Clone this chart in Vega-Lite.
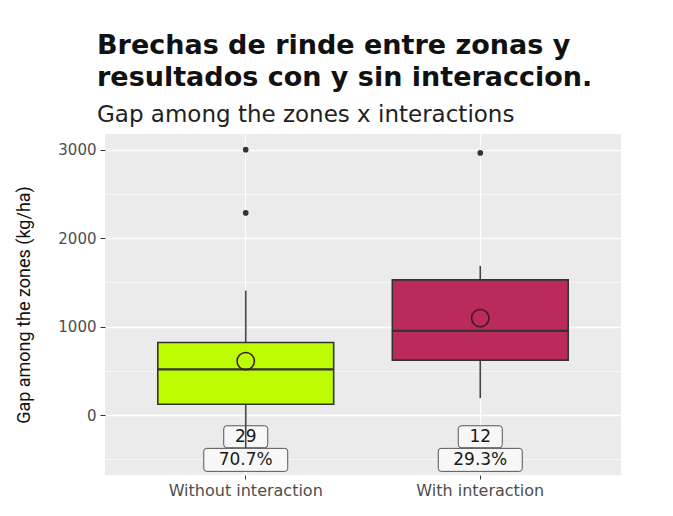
{
  "$schema": "https://vega.github.io/schema/vega-lite/v6.json",
  "autosize": {"type": "none"},
  "padding": {"left": 105, "top": 134, "right": 52, "bottom": 41},
  "width": 516,
  "height": 341,
  "background": "white",
  "title": {
    "text": ["Brechas de rinde  entre zonas y", "resultados con y sin interaccion."],
    "subtitle": "Gap among the zones x interactions",
    "anchor": "start",
    "frame": "group",
    "dx": -8,
    "font": "DejaVu Sans",
    "fontWeight": "bold",
    "fontSize": 27,
    "lineHeight": 32,
    "color": "#111111",
    "subtitleFont": "DejaVu Sans",
    "subtitleFontSize": 23,
    "subtitleColor": "#222222",
    "subtitlePadding": 12,
    "offset": 6
  },
  "datasets": {
    "boxes": [
      {"group": "Without interaction", "lo": -370, "q1": 123, "median": 517, "q3": 821, "hi": 1407, "mean": 610},
      {"group": "With interaction", "lo": 192, "q1": 621, "median": 952, "q3": 1528, "hi": 1686, "mean": 1095}
    ],
    "outliers": [
      {"group": "Without interaction", "value": 3000},
      {"group": "Without interaction", "value": 2285},
      {"group": "With interaction", "value": 2963}
    ],
    "labels": [
      {"group": "Without interaction", "y": -245, "text": "29", "kind": "n"},
      {"group": "Without interaction", "y": -506, "text": "70.7%", "kind": "pct"},
      {"group": "With interaction", "y": -245, "text": "12", "kind": "n"},
      {"group": "With interaction", "y": -506, "text": "29.3%", "kind": "pct"}
    ]
  },
  "encoding": {
    "x": {
      "field": "group",
      "type": "nominal",
      "sort": ["Without interaction", "With interaction"],
      "scale": {"domain": ["Without interaction", "With interaction"], "paddingInner": 0.25, "paddingOuter": 0.225},
      "axis": {
        "title": null,
        "labelAngle": 0,
        "domain": false,
        "grid": true,
        "gridColor": "white",
        "gridWidth": 1.2,
        "bandPosition": 0.5,
        "tickColor": "#333333",
        "tickSize": 4,
        "labelFont": "DejaVu Sans",
        "labelFontSize": 16,
        "labelColor": "#4d4d4d",
        "labelPadding": 3
      }
    }
  },
  "layer": [
    {
      "data": {"name": "labels"},
      "transform": [{"filter": "datum.kind === 'n'"}],
      "mark": {"type": "point", "filled": true, "fill": "#f7f7f7", "fillOpacity": 1, "stroke": "#555555", "strokeWidth": 1, "opacity": 1, "size": 1936,
        "shape": "M-0.86,-0.5 H0.86 Q1,-0.5 1,-0.36 V0.36 Q1,0.5 0.86,0.5 H-0.86 Q-1,0.5 -1,0.36 V-0.36 Q-1,-0.5 -0.86,-0.5 Z"},
      "encoding": {
        "y": {
          "field": "y",
          "type": "quantitative",
          "title": "Gap among the zones (kg/ha)",
          "scale": {"domain": [-677, 3177], "nice": false, "zero": false},
          "axis": {
            "values": [-500, 0, 500, 1000, 1500, 2000, 2500, 3000],
            "format": "d",
            "labelExpr": "datum.value % 1000 === 0 ? datum.label : ''",
            "domain": false,
            "grid": true,
            "gridColor": "white",
            "gridOpacity": 1,
            "gridWidth": {"condition": {"test": "datum.value % 1000 === 0", "value": 1.3}, "value": 0.6},
            "tickColor": "#333333",
            "tickOpacity": {"condition": {"test": "datum.value % 1000 === 0", "value": 1}, "value": 0},
            "tickSize": 5,
            "labelFont": "DejaVu Sans",
            "labelFontSize": 15,
            "labelColor": "#4d4d4d",
            "labelPadding": 4,
            "titleFont": "Roboto",
            "titleFontSize": 18,
            "titleFontWeight": "normal",
            "titleColor": "#111111",
            "titlePadding": 24
          }
        }
      }
    },
    {
      "data": {"name": "labels"},
      "transform": [{"filter": "datum.kind === 'pct'"}],
      "mark": {"type": "point", "filled": true, "fill": "#f7f7f7", "fillOpacity": 1, "stroke": "#555555", "strokeWidth": 1, "opacity": 1, "size": 7056,
        "shape": "M-0.93,-0.274 H0.93 Q1,-0.274 1,-0.204 V0.204 Q1,0.274 0.93,0.274 H-0.93 Q-1,0.274 -1,0.204 V-0.204 Q-1,-0.274 -0.93,-0.274 Z"},
      "encoding": {
        "y": {"field": "y", "type": "quantitative", "title": "Gap among the zones (kg/ha)"}
      }
    },
    {
      "data": {"name": "boxes"},
      "mark": {"type": "rule", "color": "#444444", "strokeWidth": 1.6},
      "encoding": {
        "y": {"field": "lo", "type": "quantitative", "title": "Gap among the zones (kg/ha)"},
        "y2": {"field": "hi"}
      }
    },
    {
      "data": {"name": "boxes"},
      "mark": {"type": "bar", "stroke": "#333333", "strokeWidth": 1.6},
      "encoding": {
        "y": {"field": "q1", "type": "quantitative", "title": "Gap among the zones (kg/ha)"},
        "y2": {"field": "q3"},
        "color": {
          "field": "group",
          "type": "nominal",
          "scale": {"domain": ["Without interaction", "With interaction"], "range": ["#BDFB00", "#BA2A5C"]},
          "legend": null
        }
      }
    },
    {
      "data": {"name": "boxes"},
      "mark": {"type": "tick", "color": "#333333", "thickness": 2.2, "size": 176, "opacity": 1},
      "encoding": {
        "y": {"field": "median", "type": "quantitative", "title": "Gap among the zones (kg/ha)"}
      }
    },
    {
      "data": {"name": "boxes"},
      "mark": {"type": "point", "shape": "circle", "filled": false, "stroke": "#3a1a1a", "strokeWidth": 1.5, "size": 300, "opacity": 1},
      "encoding": {
        "y": {"field": "mean", "type": "quantitative", "title": "Gap among the zones (kg/ha)"}
      }
    },
    {
      "data": {"name": "outliers"},
      "mark": {"type": "point", "shape": "circle", "filled": true, "color": "#333333", "size": 32, "opacity": 1},
      "encoding": {
        "y": {"field": "value", "type": "quantitative", "title": "Gap among the zones (kg/ha)"}
      }
    },
    {
      "data": {"name": "labels"},
      "mark": {"type": "text", "font": "DejaVu Sans", "fontSize": 17, "color": "#1a1a1a", "baseline": "middle", "align": "center"},
      "encoding": {
        "y": {"field": "y", "type": "quantitative", "title": "Gap among the zones (kg/ha)"},
        "text": {"field": "text"}
      }
    }
  ],
  "resolve": {"scale": {"y": "shared"}},
  "config": {
    "view": {"fill": "#EBEBEB", "stroke": null}
  }
}
